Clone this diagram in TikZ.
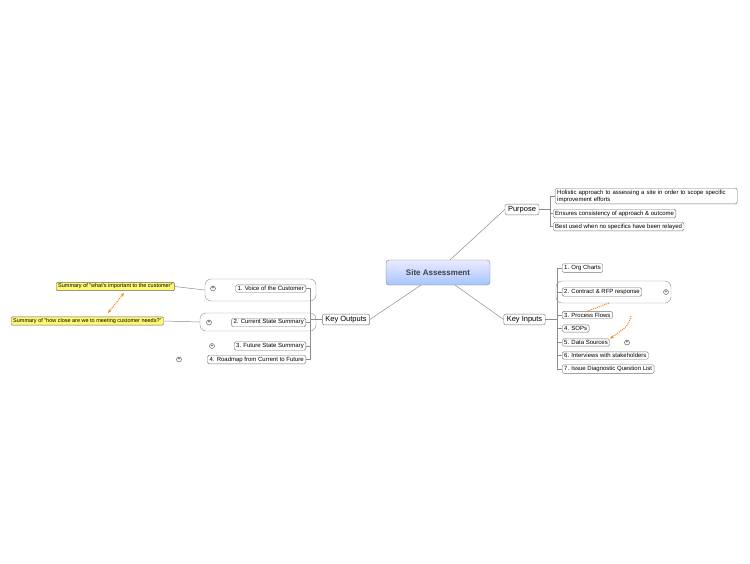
\documentclass[tikz,border=0pt]{standalone}
\usepackage{fontspec}
\setmainfont{Liberation Sans}
\usetikzlibrary{arrows.meta}
\begin{document}
\begin{tikzpicture}[x=1pt,y=-1pt,
  leaf/.style={draw=black!55,rounded corners=1.5pt,fill=white,font=\fontsize{6}{7}\selectfont,inner xsep=2pt,inner ysep=1.5pt,anchor=west},
  mid/.style={draw=black!55,rounded corners=2pt,fill=white,font=\fontsize{7.5}{9}\selectfont,inner xsep=3pt,inner ysep=2pt},
  grp/.style={draw=black!45,rounded corners=6pt},
  note/.style={draw=black!60,rounded corners=1pt,fill=yellow!55,font=\fontsize{5.5}{7}\selectfont,inner xsep=2pt,inner ysep=1.5pt,anchor=west},
  plus/.style={circle,draw=black!70,fill=white,inner sep=0pt,minimum size=5pt,font=\fontsize{5}{5}\selectfont},
  conn/.style={draw=black!45,line width=0.5pt},
  rel/.style={draw=orange,densely dotted,line width=1pt,-{Stealth[length=4pt]}}]
\useasboundingbox (0,0) rectangle (750,563);
\node[draw=black!50,rounded corners=3pt,top color=blue!8,bottom color=cyan!35!blue!35,minimum width=104pt,minimum height=25pt,font=\bfseries\fontsize{8}{10}\selectfont,text=black!75] (root) at (438,272.5) {Site Assessment};
\node[mid] (pur) at (522,209.5) {Purpose};
\node[mid] (ki) at (524.5,319.5) {Key Inputs};
\node[mid] (ko) at (346,319.5) {Key Outputs};
\draw[conn] (root.north east)++(-40,0) -- (pur.west);
\draw[conn] (root.south east)++(-35,0) -- (ki.west);
\draw[conn] (root.south west)++(35,0) -- (ko.east);
% purpose children
\node[leaf,align=left,text width=178pt] (p1) at (555,196) {Holistic approach to assessing a site in order to scope specific improvement efforts};
\node[leaf] (p2) at (553,213.5) {Ensures consistency of approach \& outcome};
\node[leaf] (p3) at (553,226.5) {Best used when no specifics have been relayed};
\draw[conn] (pur.east) -- (550,209.5);
\draw[conn] (p1.west) -- (550,196) -- (550,226.5) -- (p3.west);
\draw[conn] (p2.west) -- (550,213.5);
% key inputs
\node[grp,minimum width=115pt,minimum height=22pt] (g1) at (613.5,292) {};
\node[leaf] (i1) at (562,268) {1. Org Charts};
\node[leaf] (i2) at (562,292) {2. Contract \& RFP response};
\node[plus] (x2) at (666,292) {+};
\node[leaf] (i3) at (562,315) {3. Process Flows};
\node[leaf] (i4) at (562,328.5) {4. SOPs};
\node[leaf] (i5) at (562,342.5) {5. Data Sources};
\node[plus] (x5) at (627,342.5) {+};
\node[leaf] (i6) at (562,355.5) {6. Interviews with stakeholders};
\node[leaf] (i7) at (562,369) {7. Issue Diagnostic Question List};
\draw[conn] (ki.east) -- (557,319.5);
\draw[conn] (i1.west) -- (557,268) -- (557,369) -- (i7.west);
\foreach \n in {i2,i3,i4,i5,i6} \draw[conn] (\n.west) -- (557,0|-\n.west);
\coordinate (a1) at (609,303);
\coordinate (a2) at (631,316);
\draw[orange,densely dotted,line width=1pt] (a1) -- (i3.north);
\draw[rel] (a2) .. controls (628,326) .. (i5.north east);
% key outputs
\node[grp,minimum width=111pt,minimum height=22pt] (g2) at (260.5,290) {};
\node[grp,minimum width=116pt,minimum height=18pt] (g3) at (258,322) {};
\node[leaf,anchor=east] (o1) at (306,288.5) {1. Voice of the Customer};
\node[plus] (y1) at (213,288.5) {+};
\node[leaf,anchor=east] (o2) at (306,322.5) {2. Current State Summary};
\node[plus] (y2) at (209,322.5) {+};
\node[leaf,anchor=east] (o3) at (306,346) {3. Future State Summary};
\node[plus] (y3) at (212,346) {+};
\node[leaf,anchor=east] (o4) at (306,359.5) {4. Roadmap from Current to Future};
\node[plus] (y4) at (179,359.5) {+};
\draw[conn] (ko.west) -- (310,319.5);
\draw[conn] (o1.east) -- (310,288.5) -- (310,359.5) -- (o4.east);
\draw[conn] (o2.east) -- (310,322.5);
\draw[conn] (o3.east) -- (310,346);
\node[note] (n1) at (56,286.5) {Summary of "what's important to the customer"};
\node[note] (n2) at (11,321) {Summary of "how close are we to meeting customer needs?"};
\draw[conn] (n1.east) -- (g2.west);
\draw[conn] (n2.east) -- (g3.west);
\draw[rel,{Stealth[length=4pt]}-{Stealth[length=4pt]}] (124,293) -- (108,313);
\end{tikzpicture}
\end{document}
